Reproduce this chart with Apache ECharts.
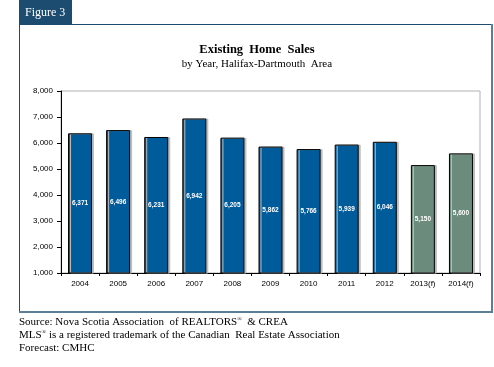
<!DOCTYPE html>
<html><head><meta charset="utf-8">
<script src="https://cdn.jsdelivr.net/npm/echarts@6/dist/echarts.min.js"></script>
<style>html,body{margin:0;padding:0;background:#fff}#c{width:494px;height:367px}</style>
</head><body><div id="c"></div>
<script>
var categories = ['2004','2005','2006','2007','2008','2009','2010','2011','2012','2013(f)','2014(f)'];
var sales = [6371, 6496, 6231, 6942, 6205, 5862, 5766, 5939, 6046, 5150, 5600];
var forecast = [false,false,false,false,false,false,false,false,false,true,true];
var yTicks = [1000, 8000, 1000]; // min, max, interval

var chart = echarts.init(document.getElementById('c'));
var serif = '"Liberation Serif", "Times New Roman", serif';
var sans = '"Liberation Sans", Arial, sans-serif';
var frameColor = '#1c4c70';

chart.setOption({
  animation: false,
  grid: { left: 61, right: 14, top: 91, bottom: 94, show: true, borderColor: '#b0b0b0', borderWidth: 1 },
  xAxis: {
    type: 'category', data: categories,
    axisLine: { lineStyle: { color: '#000', width: 1 } },
    axisTick: { show: true, length: 3, lineStyle: { color: '#000' } },
    axisLabel: { color: '#000', fontFamily: sans, fontSize: 8, margin: 7 }
  },
  yAxis: {
    type: 'value', min: yTicks[0], max: yTicks[1], interval: yTicks[2],
    axisLine: { show: true, lineStyle: { color: '#000', width: 1 } },
    axisTick: { show: true, length: 4, lineStyle: { color: '#000' } },
    splitLine: { show: false },
    axisLabel: { color: '#000', fontFamily: sans, fontSize: 8, margin: 8,
      formatter: function(v){ return v.toLocaleString('en-US'); } }
  },
  series: [{
    type: 'bar',
    barWidth: 24,
    data: sales.map(function(v, i){
      return { value: v, itemStyle: { color: forecast[i] ? '#6b8b7c' : '#005b9a' } };
    }),
    itemStyle: { borderColor: '#000', borderWidth: 1, shadowColor: '#bdbdbd', shadowOffsetX: 2, shadowOffsetY: 0, shadowBlur: 0 },
    label: { show: true, position: 'inside', color: '#fff', fontFamily: sans, fontWeight: 'bold', fontSize: 6.5,
      formatter: function(p){ return p.value.toLocaleString('en-US'); } }
  }],
  graphic: [
    { type: 'rect', shape: { x: 19, y: 0, width: 53, height: 24 }, style: { fill: frameColor } },
    { type: 'text', x: 25, y: 13, style: { text: 'Figure 3', fill: '#fff', font: '12px ' + serif, verticalAlign: 'middle' } },
    { type: 'polyline', shape: { points: [[19.5, 0], [19.5, 312], [492, 312], [492, 24.5], [19.5, 24.5]] },
      style: { stroke: frameColor, lineWidth: 1, fill: null } },
    { type: 'line', shape: { x1: 492, y1: 24, x2: 492, y2: 313 }, style: { stroke: '#5b7f99', lineWidth: 2 } },
    { type: 'line', shape: { x1: 19, y1: 312, x2: 493, y2: 312 }, style: { stroke: '#5b7f99', lineWidth: 2 } },
    { type: 'text', x: 257, y: 50, style: { text: 'Existing  Home  Sales', fill: '#000', font: 'bold 12.5px ' + serif, align: 'center', verticalAlign: 'middle' } },
    { type: 'text', x: 257, y: 64, style: { text: 'by Year, Halifax-Dartmouth  Area', fill: '#000', font: '11px ' + serif, align: 'center', verticalAlign: 'middle' } },
    { type: 'text', x: 19, y: 322, style: { text: 'Source: Nova Scotia Association  of REALTORS{s|®}  & CREA', fill: '#000', font: '11px ' + serif, verticalAlign: 'middle',
      rich: { s: { fontSize: 6, fontFamily: serif, verticalAlign: 'top', fill: '#000' } } } },
    { type: 'text', x: 19, y: 335, style: { text: 'MLS{s|®} is a registered trademark of the Canadian  Real Estate Association', fill: '#000', font: '11px ' + serif, verticalAlign: 'middle',
      rich: { s: { fontSize: 6, fontFamily: serif, verticalAlign: 'top', fill: '#000' } } } },
    { type: 'text', x: 19, y: 348, style: { text: 'Forecast: CMHC', fill: '#000', font: '11px ' + serif, verticalAlign: 'middle' } }
  ]
});
</script></body></html>
